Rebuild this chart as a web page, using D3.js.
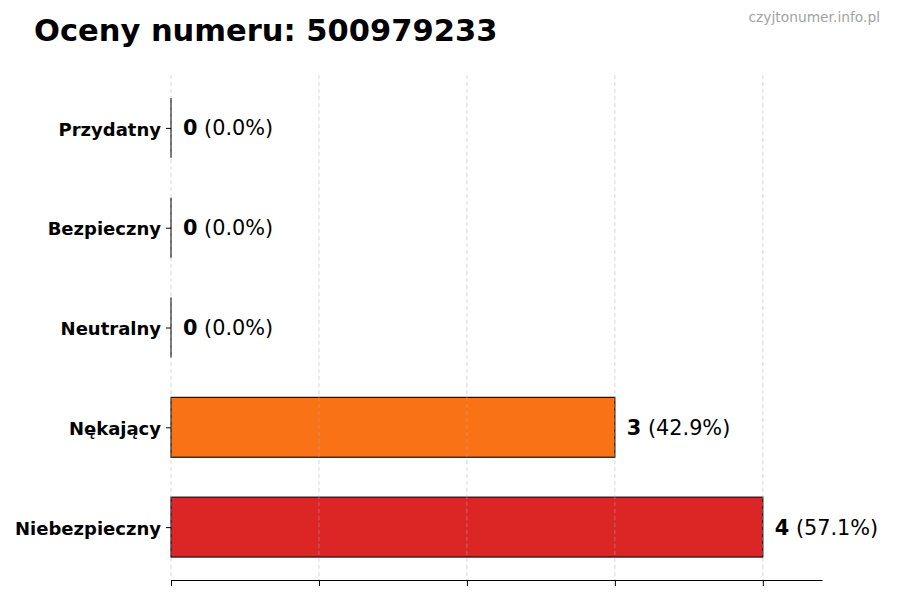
<!DOCTYPE html>
<html>
<head>
<meta charset="utf-8">
<script src="https://cdn.jsdelivr.net/npm/d3@7"></script>
<style>
  body { margin: 0; background: #fff; }
  svg { font-family: "DejaVu Sans", sans-serif; }
</style>
</head>
<body>
<svg id="chart" width="900" height="600"></svg>
<script>
// Chart data
const categories = ["Niebezpieczny", "Nękający", "Neutralny", "Bezpieczny", "Przydatny"];
const counts = [4, 3, 0, 0, 0];
const percents = ["57.1%", "42.9%", "0.0%", "0.0%", "0.0%"];
const barColors = ["#dc2626", "#f97316", "#9ca3af", "#22c55e", "#3b82f6"];
const xTicks = [0, 1, 2, 3, 4];

const svg = d3.select("#chart");
const margin = { left: 171, right: 78, top: 75, bottom: 20 };
const width = 900 - margin.left - margin.right;
const height = 600 - margin.top - margin.bottom;

const g = svg.append("g")
    .attr("transform", `translate(${margin.left},${margin.top})`);

const x = d3.scaleLinear()
    .domain([0, d3.max(counts) * 1.1])
    .range([0, width]);

// bars sit at integer positions, height 0.6, matplotlib-like margins
const y = d3.scaleLinear()
    .domain([-0.53, categories.length - 1 + 0.53])
    .range([height, 0]);
const barH = y(0) - y(0.6);

// Bars
g.selectAll("rect.bar")
    .data(categories)
    .join("rect")
    .attr("class", "bar")
    .attr("x", x(0))
    .attr("y", (d, i) => y(i) - barH / 2)
    .attr("width", (d, i) => x(counts[i]) - x(0))
    .attr("height", barH)
    .attr("fill", (d, i) => barColors[i])
    .attr("stroke", "#111")
    .attr("stroke-width", 1.2);

// zero-width bars still show their edge
g.selectAll("line.zero")
    .data(categories.filter((d, i) => counts[i] === 0))
    .join("line")
    .attr("class", "zero")
    .attr("x1", x(0))
    .attr("x2", x(0))
    .attr("y1", d => y(categories.indexOf(d)) - barH / 2)
    .attr("y2", d => y(categories.indexOf(d)) + barH / 2)
    .attr("stroke", "#111")
    .attr("stroke-width", 1.2);

// Vertical grid (drawn above bars)
g.append("g")
    .selectAll("line")
    .data(xTicks)
    .join("line")
    .attr("x1", d => x(d))
    .attr("x2", d => x(d))
    .attr("y1", 0)
    .attr("y2", height)
    .attr("stroke", "#b0b0b0")
    .attr("stroke-width", 0.8)
    .attr("stroke-dasharray", "4,3")
    .attr("opacity", 0.6);

// Bottom axis, no labels
const xAxis = g.append("g")
    .attr("transform", `translate(0,${height})`)
    .call(d3.axisBottom(x).tickValues(xTicks).tickFormat("").tickSize(6).tickSizeOuter(0));
xAxis.select(".domain").attr("stroke", "#000").attr("stroke-width", 1);
xAxis.selectAll(".tick line").attr("stroke", "#000");

// Left axis: ticks + bold labels, no spine
const yAxis = g.append("g")
    .call(d3.axisLeft(y)
        .tickValues(d3.range(categories.length))
        .tickFormat(i => categories[i])
        .tickSize(5)
        .tickPadding(5));
yAxis.select(".domain").remove();
yAxis.selectAll(".tick line").attr("stroke", "#000");
yAxis.selectAll(".tick text")
    .attr("font-family", "DejaVu Sans, sans-serif")
    .attr("font-size", "18px")
    .attr("font-weight", "bold")
    .attr("fill", "#000")
    .attr("dy", "0.4em");

// Value labels
const labels = g.selectAll("text.value")
    .data(categories)
    .join("text")
    .attr("class", "value")
    .attr("x", (d, i) => x(counts[i]) + 12)
    .attr("y", (d, i) => y(i))
    .attr("dy", "0.36em")
    .attr("font-size", "20.8px")
    .attr("fill", "#000");
labels.append("tspan")
    .attr("font-weight", "bold")
    .text((d, i) => counts[i]);
labels.append("tspan")
    .text((d, i) => ` (${percents[i]})`);

// Title
svg.append("text")
    .attr("x", 34)
    .attr("y", 41)
    .attr("font-size", "30.5px")
    .attr("font-weight", "bold")
    .attr("fill", "#000")
    .text("Oceny numeru: 500979233");

// Watermark
svg.append("text")
    .attr("x", 880)
    .attr("y", 22)
    .attr("text-anchor", "end")
    .attr("font-size", "13.8px")
    .attr("fill", "#999")
    .attr("opacity", 0.9)
    .text("czyjtonumer.info.pl");
</script>
</body>
</html>
